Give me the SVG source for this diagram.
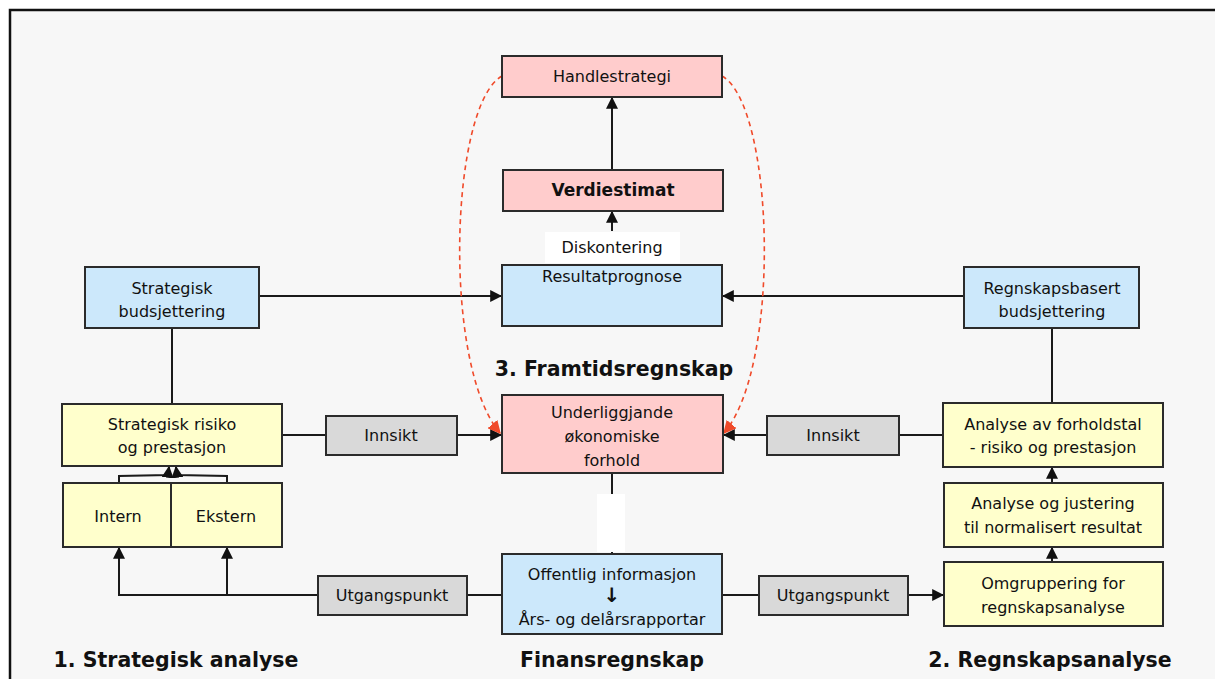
<svg xmlns="http://www.w3.org/2000/svg" width="1215" height="679" viewBox="0 0 1215 679">
<defs>
<style>
.box{stroke:#2b2b2b;stroke-width:2}
.pink{fill:#ffcccc}
.blue{fill:#cce8fb}
.yel{fill:#ffffcc}
.gray{fill:#d9d9d9}
text{font-family:"DejaVu Sans","Liberation Sans",sans-serif;font-size:16px;fill:#111;text-anchor:middle}
.b{font-weight:bold}
.title{font-weight:bold;font-size:20.5px}
.ln{stroke:#1a1a1a;stroke-width:2;fill:none}
.red{stroke:#f04a2a;stroke-width:1.6;fill:none;stroke-dasharray:5 4}
</style>
<marker id="ah2" viewBox="0 0 10 10" refX="9" refY="5" markerWidth="12" markerHeight="12" orient="auto" markerUnits="userSpaceOnUse">
<path d="M0,0 L10,5 L0,10 z" fill="#111"/>
</marker>
<marker id="ahr" viewBox="0 0 10 10" refX="9" refY="5" markerWidth="13" markerHeight="13" orient="auto" markerUnits="userSpaceOnUse">
<path d="M0,0 L10,5 L0,10 z" fill="#f04a2a"/>
</marker>
</defs>
<rect x="0" y="0" width="1215" height="679" fill="#ffffff"/>
<rect x="10" y="10" width="1215" height="690" fill="#f7f7f7" stroke="#111" stroke-width="2.5"/>

<g id="connectors">
<line class="ln" x1="612" y1="170" x2="612" y2="98" marker-end="url(#ah2)"/>
<line class="ln" x1="612" y1="231" x2="612" y2="212" marker-end="url(#ah2)"/>
<line class="ln" x1="259" y1="296" x2="501" y2="296" marker-end="url(#ah2)"/>
<line class="ln" x1="964" y1="296" x2="723" y2="296" marker-end="url(#ah2)"/>
<line class="ln" x1="172" y1="328" x2="172" y2="403"/>
<line class="ln" x1="1052" y1="328" x2="1052" y2="403"/>
<line class="ln" x1="282" y1="435" x2="326" y2="435"/>
<line class="ln" x1="457" y1="435" x2="501" y2="435" marker-end="url(#ah2)"/>
<line class="ln" x1="943" y1="435" x2="899" y2="435"/>
<line class="ln" x1="767" y1="435" x2="724" y2="435" marker-end="url(#ah2)"/>
<polyline class="ln" points="119,483 119,476 168,475 169,467" marker-end="url(#ah2)"/>
<polyline class="ln" points="227,483 227,476 177,475 176,467" marker-end="url(#ah2)"/>
<line class="ln" x1="502" y1="595" x2="467" y2="595"/>
<polyline class="ln" points="318,595 119,595 119,548" marker-end="url(#ah2)"/>
<line class="ln" x1="227" y1="595" x2="227" y2="548" marker-end="url(#ah2)"/>
<line class="ln" x1="722" y1="595" x2="759" y2="595"/>
<line class="ln" x1="908" y1="595" x2="943" y2="595" marker-end="url(#ah2)"/>
<line class="ln" x1="1052" y1="562" x2="1052" y2="548" marker-end="url(#ah2)"/>
<line class="ln" x1="1052" y1="483" x2="1052" y2="468" marker-end="url(#ah2)"/>
<line class="ln" x1="612" y1="473" x2="612" y2="554"/>
<path class="red" d="M502,76 C450,105 442,365 500,433" marker-end="url(#ahr)"/>
<path class="red" d="M722,76 C774,105 782,365 724,433" marker-end="url(#ahr)"/>
</g>

<g id="handlestrategi"><rect class="box pink" x="502" y="56" width="220" height="41"/><text x="612" y="82">Handlestrategi</text></g>
<g id="verdiestimat"><rect class="box pink" x="503" y="170" width="220" height="41"/><text class="b" x="613" y="196" style="font-size:17px">Verdiestimat</text></g>
<g id="diskontering"><rect x="545" y="232" width="135" height="31" fill="#ffffff"/><text x="612" y="253">Diskontering</text></g>
<g id="resultatprognose"><rect class="box blue" x="502" y="265" width="220" height="61"/><text x="612" y="282">Resultatprognose</text></g>
<g id="underliggjande"><rect class="box pink" x="502" y="395" width="221" height="78"/><text x="612" y="418">Underliggjande</text><text x="612" y="442">økonomiske</text><text x="612" y="466">forhold</text></g>
<g id="gap"><rect x="597" y="494" width="28" height="58" fill="#ffffff"/></g>
<g id="strat-budsj"><rect class="box blue" x="85" y="267" width="174" height="61"/><text x="172" y="294">Strategisk</text><text x="172" y="317">budsjettering</text></g>
<g id="regn-budsj"><rect class="box blue" x="964" y="267" width="175" height="61"/><text x="1052" y="294">Regnskapsbasert</text><text x="1052" y="317">budsjettering</text></g>
<g id="strat-risiko"><rect class="box yel" x="62" y="404" width="220" height="62"/><text x="172" y="430">Strategisk risiko</text><text x="172" y="453">og prestasjon</text></g>
<g id="innsikt-l"><rect class="box gray" x="326" y="416" width="131" height="39"/><text x="391" y="441">Innsikt</text></g>
<g id="innsikt-r"><rect class="box gray" x="767" y="416" width="132" height="39"/><text x="833" y="441">Innsikt</text></g>
<g id="analyse-forhold"><rect class="box yel" x="943" y="403" width="220" height="64"/><text x="1053" y="430">Analyse av forholdstal</text><text x="1053" y="453">- risiko og prestasjon</text></g>
<g id="intern"><rect class="box yel" x="63" y="483" width="108" height="64"/><text x="118" y="522">Intern</text></g>
<g id="ekstern"><rect class="box yel" x="171" y="483" width="111" height="64"/><text x="226" y="522">Ekstern</text></g>
<g id="analyse-justering"><rect class="box yel" x="944" y="483" width="219" height="64"/><text x="1053" y="509">Analyse og justering</text><text x="1053" y="533">til normalisert resultat</text></g>
<g id="omgruppering"><rect class="box yel" x="944" y="562" width="219" height="64"/><text x="1053" y="589">Omgruppering for</text><text x="1053" y="613">regnskapsanalyse</text></g>
<g id="offentlig"><rect class="box blue" x="502" y="554" width="220" height="80"/><text x="612" y="580">Offentlig informasjon</text><text class="b" x="612" y="602" style="font-size:20px">↓</text><text x="612" y="625">Års- og delårsrapportar</text></g>
<g id="utgang-l"><rect class="box gray" x="318" y="576" width="149" height="39"/><text x="392" y="601">Utgangspunkt</text></g>
<g id="utgang-r"><rect class="box gray" x="759" y="576" width="149" height="39"/><text x="833" y="601">Utgangspunkt</text></g>

<g id="labels">
<text class="title" x="614" y="376">3. Framtidsregnskap</text>
<text class="title" x="176" y="667">1. Strategisk analyse</text>
<text class="title" x="612" y="667">Finansregnskap</text>
<text class="title" x="1050" y="667">2. Regnskapsanalyse</text>
</g>
</svg>
